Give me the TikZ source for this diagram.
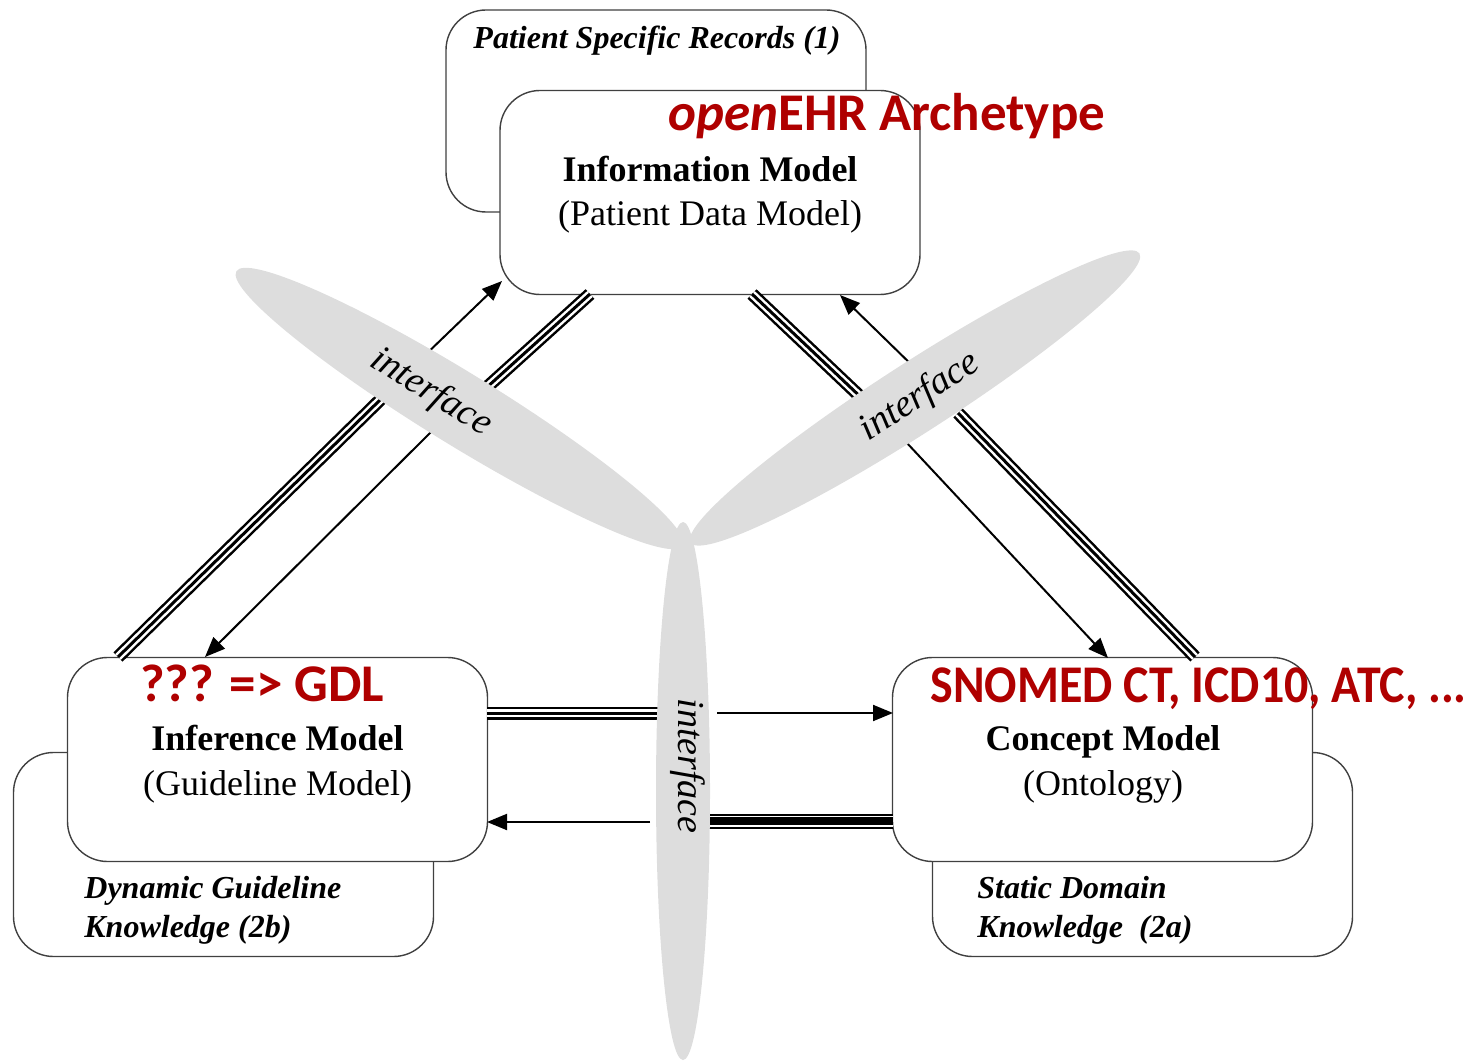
\documentclass[tikz,border=0pt]{standalone}
\usepackage{fontspec}
\usepackage{graphicx}
\setmainfont{Liberation Serif}
\newfontfamily\calibrifont{Carlito}
\usetikzlibrary{arrows.meta,shapes.geometric}
\definecolor{lobegray}{RGB}{221,221,221}
\definecolor{annotred}{RGB}{175,0,0}
\begin{document}
\begin{tikzpicture}[x=0.5pt,y=-0.5pt,
  bigbox/.style={draw=black!75, line width=0.7pt, rounded corners=20pt, fill=white,
    minimum width=210pt, minimum height=102pt, inner sep=0pt},
  lobeshape/.style={ellipse, fill=lobegray, inner sep=0pt},
  arrline/.style={line width=1pt, -{Triangle[length=10pt,width=8pt]}},
  tripleline/.style={line width=6.5pt, draw=black,
    postaction={draw=white, line width=4pt},
    postaction={draw=black, line width=1.5pt}},
  heavyline/.style={line width=7.5pt, draw=black,
    postaction={draw=white, line width=5.5pt},
    postaction={draw=black, line width=4pt}},
  modeltitle/.style={font=\fontsize{18pt}{22pt}\selectfont\bfseries, anchor=base, inner sep=0pt},
  modelsub/.style={font=\fontsize{18pt}{22pt}\selectfont, anchor=base, inner sep=0pt},
  notetext/.style={font=\fontsize{16pt}{20pt}\selectfont\bfseries\itshape, anchor=base west, inner sep=0pt},
  ifacetext/.style={font=\fontsize{19pt}{22pt}\selectfont\itshape, inner sep=0pt},
  redlabel/.style={font=\calibrifont\fontsize{26.5pt}{30pt}\selectfont\bfseries, text=annotred,
    anchor=base west, inner sep=0pt}
]
\useasboundingbox (0,0) rectangle (1476,1063);

% back boxes
\node[bigbox, minimum height=101pt] (psr) at (656,111) {};
\node[bigbox] (dgk) at (223.5,854.5) {};
\node[bigbox] (sdk) at (1142.5,854.5) {};
% front boxes
\node[bigbox] (info) at (710,192.5) {};
\node[bigbox] (infer) at (277.5,759.5) {};
\node[bigbox] (concept) at (1102.5,759.5) {};

% box texts
\node[notetext, anchor=base] (psrT) at (657,49) {Patient Specific Records (1)};
\node[modeltitle] (infoT) at (710,182) {Information Model};
\node[modelsub] (infoS) at (710,226) {(Patient Data Model)};
\node[modeltitle] (inferT) at (277.5,750) {Inference Model};
\node[modelsub] (inferS) at (277.5,795) {(Guideline Model)};
\node[modeltitle] (conceptT) at (1103,750) {Concept Model};
\node[modelsub] (conceptS) at (1103,795) {(Ontology)};
\node[notetext] (dgkA) at (84,898) {Dynamic Guideline};
\node[notetext] (dgkB) at (84,937) {Knowledge (2b)};
\node[notetext] (sdkA) at (977,898) {Static Domain};
\node[notetext] (sdkB) at (977,937) {Knowledge\ \ (2a)};

% connector end points
\coordinate (a1) at (118,657);  \coordinate (a2) at (381,399);
\coordinate (a3) at (485,389);  \coordinate (a4) at (590,294);
\coordinate (b1) at (420,360);  \coordinate (b2) at (502,281);
\coordinate (c1) at (433,430);  \coordinate (c2) at (205,657);
\coordinate (d1) at (752,294);  \coordinate (d2) at (868,404);
\coordinate (d3) at (958,413);  \coordinate (d4) at (1195,657);
\coordinate (e1) at (920,373);  \coordinate (e2) at (840,295);
\coordinate (f1) at (906,442);  \coordinate (f2) at (1108,658);
\coordinate (g1) at (487,713);  \coordinate (g2) at (663,713);
\coordinate (h1) at (717,713);  \coordinate (h2) at (893,713);
\coordinate (k1) at (650,822);  \coordinate (k2) at (487,822);
\coordinate (m1) at (704,821);  \coordinate (m2) at (893,821);

% connectors
\draw[tripleline] (a1) -- (a2);
\draw[tripleline] (a3) -- (a4);
\draw[arrline] (b1) -- (b2);
\draw[arrline] (c1) -- (c2);
\draw[tripleline] (d1) -- (d2);
\draw[tripleline] (d3) -- (d4);
\draw[arrline] (e1) -- (e2);
\draw[arrline] (f1) -- (f2);
\draw[tripleline] (g1) -- (g2);
\draw[arrline] (h1) -- (h2);
\draw[arrline] (k1) -- (k2);
\draw[heavyline] (m1) -- (m2);

% interface lobes
\node[lobeshape, minimum width=262pt, minimum height=36pt, rotate=-31.6] (lobeL) at (459.5,408.5) {};
\node[lobeshape, minimum width=267pt, minimum height=35pt, rotate=32.8] (lobeR) at (915,398) {};
\node[lobeshape, minimum width=27pt, minimum height=269pt] (lobeB) at (683,791) {};

\node[ifacetext, rotate=-32] (ifL) at (431,393) {interface};
\node[ifacetext, rotate=33] (ifR) at (920,397) {interface};
\node[ifacetext, rotate=-90] (ifB) at (688,766) {interface};

% red annotations
\node[redlabel] (ehr) at (668,131) {{\itshape open}EHR Archetype};
\node[redlabel] (gdl) at (140,701) {??? => GDL};
\node[redlabel] (snomed) at (930,702) {\scalebox{0.905}[1]{SNOMED CT, ICD10, ATC, ...}};
\end{tikzpicture}
\end{document}
